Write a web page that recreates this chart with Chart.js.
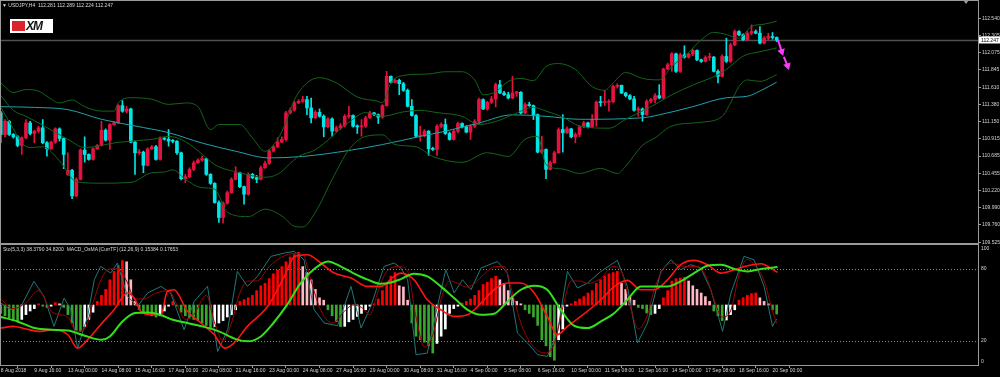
<!DOCTYPE html>
<html>
<head>
<meta charset="utf-8">
<title>USDJPY H4</title>
<script src="https://cdn.jsdelivr.net/npm/chart.js@4.4.1/dist/chart.umd.min.js"></script>
<style>
  html, body { margin: 0; padding: 0; background: #000; }
  #wrap { position: relative; width: 1000px; height: 377px; overflow: hidden; background: #000; }
  #wrap canvas { position: absolute; left: 0; }
  #priceChart { top: 0; }
  #oscChart { top: 244px; }
  .caption { position: absolute; color: #d8d8d8; font: 5px 'Liberation Sans', Arial, sans-serif; white-space: pre; line-height: 6px; }
  #logo { position: absolute; left: 10px; top: 19px; width: 43px; height: 14px; background: #fff; }
  #logo .mark { position: absolute; left: 2px; top: 2px; width: 13px; height: 10px; background: #d9252b; }
  #logo .name { position: absolute; left: 16px; top: 0; font: italic bold 12px 'Liberation Sans', Arial, sans-serif; line-height: 14px; color: #111; letter-spacing: -1px; }
</style>
</head>
<body>
<div id="wrap">
  <canvas id="priceChart" width="1000" height="246"></canvas>
  <canvas id="oscChart" width="1000" height="133"></canvas>
  <div class="caption" style="left:2px;top:2px">▼ USDJPY,H4  112.281 112.289 112.224 112.247</div>
  <div id="logo"><span class="mark"></span><span class="name">XM</span></div>
  <div class="caption" style="left:3px;top:246px">Sto(5,3,3) 38.3790 34.8200  MACD_OsMA [CurrTF] (12,26,9) 0.15384 0.17653</div>
</div>
<script>
// axis labels
const PRICE_TICKS = [109.525, 109.760, 109.990, 110.220, 110.455, 110.685, 110.915, 111.150, 111.380, 111.610, 111.845, 112.075, 112.305, 112.540];
const OSC_TICKS = [0, 20, 80, 100];
const OSC_LEVELS = [20, 80];
const TIME_INDEX = [0, 8, 16, 24, 32, 40, 48, 56, 64, 72, 80, 88, 96, 104, 112, 120, 128, 136, 144, 152, 160, 168, 176, 184];
const TIME_LABELS = ['8 Aug 2018', '9 Aug 16:00', '13 Aug 00:00', '14 Aug 08:00', '15 Aug 16:00', '17 Aug 00:00', '20 Aug 08:00', '21 Aug 16:00',
  '23 Aug 00:00', '24 Aug 08:00', '27 Aug 16:00', '29 Aug 00:00', '30 Aug 08:00', '31 Aug 16:00', '4 Sep 00:00', '5 Sep 08:00',
  '6 Sep 16:00', '10 Sep 00:00', '11 Sep 08:00', '12 Sep 16:00', '14 Sep 00:00', '17 Sep 08:00', '18 Sep 16:00', '20 Sep 00:00'];

// H4 candles, bar 0 = 8 Aug 08:00
const OPEN = [111.266,110.975,111.154,110.975,110.944,110.828,110.931,111.132,110.989,111.020,
  111.065,110.864,110.783,110.872,111.051,110.922,110.439,110.493,110.148,110.372,
  110.765,110.707,110.640,110.783,110.828,111.033,110.899,111.109,111.132,111.364,
  111.288,111.319,110.872,110.729,110.738,110.560,110.783,110.810,110.640,110.917,
  110.912,110.886,110.884,110.729,110.381,110.408,110.506,110.595,110.631,110.649,
  110.439,110.318,110.059,109.858,110.050,110.193,110.372,110.461,110.273,110.171,
  110.439,110.394,110.372,110.528,110.586,110.752,110.810,110.872,110.908,111.266,
  111.302,111.400,111.422,111.445,111.333,111.199,111.275,111.221,111.078,111.185,
  111.020,111.065,111.096,111.221,111.230,111.087,111.078,111.087,111.199,111.266,
  111.243,111.208,111.364,111.758,111.677,111.704,111.659,111.570,111.355,111.230,
  110.953,110.962,111.020,110.783,110.774,111.087,111.109,110.989,110.908,111.020,
  111.123,111.078,111.007,111.087,111.154,111.445,111.319,111.409,111.454,111.646,
  111.534,111.512,111.467,111.534,111.543,111.266,111.378,111.364,111.243,110.738,
  110.774,110.506,110.595,110.729,111.042,110.998,111.051,110.944,110.975,111.078,
  111.132,111.078,111.176,111.409,111.405,111.410,111.418,111.623,111.637,111.534,
  111.498,111.454,111.302,111.319,111.243,111.422,111.445,111.498,111.467,111.856,
  111.914,112.061,111.825,112.048,112.017,112.057,112.106,111.981,111.959,112.012,
  112.017,111.825,111.758,112.026,111.959,112.182,112.361,112.316,112.249,112.339,
  112.361,112.339,112.205,112.272,112.294,112.281];
const HIGH = [111.288,111.176,111.163,110.989,110.962,110.944,111.176,111.154,111.033,111.087,
  111.176,110.881,110.886,111.065,111.065,110.931,110.729,110.506,110.394,110.783,
  110.944,110.716,110.796,110.841,111.154,111.051,111.123,111.154,111.378,111.431,
  111.355,111.330,110.886,110.774,110.752,110.796,110.828,110.828,110.944,110.935,
  111.042,110.908,110.895,110.738,110.439,110.528,110.618,110.649,110.685,110.658,
  110.448,110.327,110.081,110.068,110.215,110.394,110.542,110.470,110.282,110.461,
  110.452,110.425,110.551,110.618,110.774,110.828,110.931,110.944,111.288,111.333,
  111.422,111.445,111.489,111.489,111.467,111.297,111.319,111.239,111.203,111.199,
  111.087,111.123,111.243,111.355,111.239,111.105,111.176,111.221,111.288,111.275,
  111.252,111.378,111.825,111.766,111.722,111.722,111.677,111.588,111.445,111.243,
  111.087,111.042,111.029,110.805,111.109,111.132,111.185,111.007,111.042,111.141,
  111.132,111.096,111.105,111.176,111.467,111.454,111.422,111.489,111.668,111.704,
  111.556,111.543,111.758,111.556,111.552,111.400,111.409,111.373,111.252,110.953,
  110.783,110.618,110.752,111.065,111.243,111.078,111.060,110.998,111.096,111.154,
  111.141,111.243,111.427,111.489,111.570,111.445,111.641,111.659,111.641,111.543,
  111.512,111.489,111.346,111.333,111.445,111.462,111.525,111.646,111.869,111.936,
  112.079,112.070,112.070,112.169,112.070,112.124,112.115,111.990,112.035,112.070,
  112.026,111.847,112.048,112.272,112.205,112.383,112.374,112.330,112.361,112.450,
  112.383,112.428,112.294,112.339,112.348,112.289];
const LOW = [110.864,110.944,110.962,110.926,110.810,110.707,110.917,110.971,110.864,110.998,
  110.850,110.685,110.774,110.855,110.886,110.515,110.425,110.113,110.139,110.363,
  110.604,110.631,110.630,110.774,110.819,110.886,110.774,111.096,111.123,111.275,
  111.266,110.864,110.439,110.707,110.461,110.551,110.774,110.631,110.631,110.899,
  110.819,110.864,110.707,110.363,110.327,110.390,110.488,110.586,110.613,110.425,
  110.305,110.050,109.791,109.782,110.037,110.184,110.363,110.260,110.037,110.157,
  110.381,110.327,110.363,110.519,110.573,110.738,110.796,110.864,110.886,111.252,
  111.288,111.391,111.409,111.243,111.132,111.190,111.208,110.944,111.065,110.953,
  111.007,111.042,111.078,111.194,111.074,110.989,110.953,111.069,111.190,111.230,
  111.123,111.194,111.355,111.668,111.668,111.512,111.556,111.346,111.221,110.940,
  110.886,110.944,110.694,110.761,110.694,111.065,110.975,110.899,110.899,110.998,
  111.065,110.998,110.908,111.069,111.123,111.311,111.302,111.391,111.346,111.525,
  111.498,111.454,111.458,111.489,111.252,111.257,111.355,111.176,110.729,110.720,
  110.381,110.497,110.586,110.720,110.738,110.989,110.931,110.864,110.944,111.065,
  111.065,111.069,111.087,111.355,111.364,111.288,111.400,111.601,111.525,111.480,
  111.445,111.288,111.221,111.154,111.230,111.400,111.400,111.454,111.445,111.847,
  111.825,111.811,111.811,112.003,112.003,112.035,111.968,111.945,111.950,111.972,
  111.816,111.668,111.749,111.945,111.945,112.169,112.303,112.240,112.240,112.316,
  112.330,112.196,112.196,112.249,112.258,112.224];
const CLOSE = [110.975,111.154,110.975,110.944,110.828,110.931,111.132,110.989,111.020,111.065,
  110.864,110.783,110.872,111.051,110.922,110.707,110.493,110.148,110.372,110.765,
  110.707,110.640,110.783,110.828,111.033,110.899,111.109,111.132,111.364,111.288,
  111.319,110.872,110.729,110.738,110.560,110.783,110.810,110.640,110.917,110.912,
  110.886,110.884,110.729,110.381,110.408,110.506,110.595,110.631,110.649,110.439,
  110.318,110.059,109.858,110.050,110.193,110.372,110.461,110.273,110.171,110.439,
  110.394,110.372,110.528,110.586,110.752,110.810,110.872,110.908,111.266,111.302,
  111.400,111.422,111.445,111.333,111.199,111.275,111.221,111.078,111.185,111.020,
  111.065,111.096,111.221,111.230,111.087,111.078,111.087,111.199,111.266,111.243,
  111.208,111.364,111.758,111.677,111.704,111.659,111.570,111.355,111.230,110.953,
  110.962,111.020,110.783,110.774,111.087,111.109,110.989,110.908,111.020,111.123,
  111.078,111.007,111.087,111.154,111.445,111.319,111.409,111.454,111.646,111.534,
  111.512,111.467,111.534,111.543,111.266,111.378,111.364,111.243,110.738,110.774,
  110.506,110.595,110.729,111.042,110.998,111.051,110.944,110.975,111.078,111.132,
  111.078,111.176,111.409,111.405,111.410,111.418,111.623,111.637,111.534,111.498,
  111.454,111.302,111.319,111.243,111.422,111.445,111.498,111.467,111.856,111.914,
  112.061,111.825,112.048,112.017,112.057,112.106,111.981,111.959,112.012,112.017,
  111.825,111.758,112.026,111.959,112.182,112.361,112.316,112.249,112.339,112.361,
  112.339,112.205,112.272,112.294,112.281,112.247];

// overlays on the price panel: [bar, price]
const BB_UPPER = [[0,111.67],[3,111.54],[6,111.58],[9,111.56],[11,111.49],[14,111.40],[17,111.44],[20,111.35],[24,111.29],[27,111.29],
  [28,111.40],[31,111.47],[36,111.45],[40,111.38],[44,111.40],[47,111.35],[50,111.04],[52,111.11],[57,111.11],[60,110.93],
  [63,110.75],[66,110.91],[68,111.14],[70,111.44],[73,111.67],[76,111.74],[80,111.67],[85,111.48],[90,111.42],[91,111.40],
  [93,111.67],[96,111.77],[102,111.79],[106,111.82],[110,111.82],[113,111.71],[115,111.51],[118,111.55],[121,111.69],[124,111.73],
  [127,111.70],[130,111.89],[133,111.93],[137,111.85],[141,111.62],[144,111.57],[146,111.67],[149,111.81],[153,111.73],[157,111.71],
  [160,111.89],[164,112.08],[167,112.25],[170,112.35],[173,112.32],[176,112.27],[179,112.43],[182,112.46],[185,112.50]];
const BB_MIDDLE = [[0,111.50],[3,111.30],[6,111.22],[10,111.10],[16,110.91],[20,110.80],[28,110.87],[36,110.91],[40,110.95],[44,110.88],[48,110.71],
  [51,110.57],[57,110.46],[63,110.40],[66,110.44],[71,110.68],[75,110.77],[83,111.14],[87,111.27],[91,111.22],[96,111.28],
  [100,111.30],[104,111.27],[110,111.22],[114,111.11],[118,111.15],[122,111.24],[127,111.34],[130,111.29],[134,111.21],[138,111.09],
  [145,111.06],[149,111.18],[156,111.38],[160,111.51],[165,111.64],[171,111.78],[173,111.85],[177,112.03],[181,112.09],[185,112.14]];
const BB_LOWER = [[0,111.34],[3,111.05],[5,110.86],[7,110.80],[10,110.81],[14,110.62],[18,110.34],[24,110.32],[31,110.33],[36,110.46],[39,110.47],[41,110.50],
  [44,110.37],[48,110.26],[51,110.24],[54,109.93],[59,109.87],[63,109.97],[67,109.88],[70,109.74],[72,109.73],[75,109.93],
  [79,110.37],[83,110.77],[87,110.95],[91,110.97],[94,110.84],[99,110.81],[103,110.68],[110,110.60],[116,110.73],[121,110.68],
  [125,110.91],[128,110.95],[130,110.57],[134,110.51],[138,110.45],[143,110.52],[147,110.45],[149,110.55],[153,110.83],[156,110.93],
  [160,111.09],[167,111.14],[172,111.22],[174,111.40],[176,111.62],[178,111.71],[181,111.69],[185,111.78]];
const MA_SLOW = [[0,111.35],[8,111.34],[16,111.31],[24,111.18],[32,111.09],[40,111.00],[48,110.86],[56,110.75],[64,110.66],[72,110.68],
  [83,110.76],[91,110.84],[100,110.95],[106,111.02],[114,111.13],[122,111.24],[130,111.22],[138,111.18],[153,111.20],[157,111.24],
  [165,111.35],[173,111.47],[178,111.49],[181,111.56],[185,111.68]];
const ARROW_1 = [[185.3,112.25],[186.2,112.09]];
const ARROW_2 = [[186.7,112.02],[187.6,111.90]];

// lower panel: histogram height around the 50 line, and lines as [bar, value]
const HIST = [-7,-9,-11,-13,-14,-12,-8,-5,-3,1, -1,-2,-1,2,1,-2,-8,-15,-21,-22,
  -18,-12,-6,3,8,13,21,28,33,37, 36,21,3,-4,-7,-8,-9,-10,-9,-5,
  -1,3,-1,-6,-9,-11,-12,-13,-15,-17, -19,-18,-15,-13,-10,-8,-4,3,4.5,6,
  8,12,16,18,22,26,29,32,36,40, 42,44,32,27,21,13,6,4,-4,-9,
  -14,-18,-17.8,-14,-12,-9.5,-7,-4,-1,1, 5,12,18,24,27,16,15,4,-15,-26,
  -29,-31,-34,-40,-32,-26,-20,-7,-3,-1, 1.6,3,5,8,12,17,19,22,24,21,
  18,12,7,3,1,-4,-7,-10,-17,-29, -34,-43,-46,-29,-20,-1,1,3,5,7,
  10,12,18,21,24,26,27,28,18,13, 7,4,-2,-3,-6.7,-8,-7,-3,6,12,
  20,22,22.5,23,20,16,13,10,7,3, -5,-9,-13,-12.5,-8,-4,4,6,8,9.5,
  10,6,3,1,-4,-7.5];
const STOCH_MAIN = [[0,51.6],[2.4,46],[4.8,48.8],[7.9,69.7],[10.3,57.2],[12.7,32.2],[15.1,55.8],[16.7,46],[18.3,14.1],[20.7,40.5],
  [22.3,71.1],[23.8,82.2],[26.2,76.6],[27.8,85],[30.2,57.2],[32.6,48.8],[35,60],[38.2,65.5],[40.5,60],[43.7,29.4],
  [46.1,53],[49.3,65.5],[51.7,11.3],[54.1,29.4],[56.4,78],[58.8,65.5],[61.2,73.8],[64.4,90.5],[67.6,93.3],[70,94.7],
  [72.3,87.7],[74.7,46],[77.1,35],[80.3,32.7],[83.5,65.5],[85.9,30.8],[88.2,48.8],[91.4,82.2],[93.8,85],[95.4,80.8],
  [97,71.1],[99,8.6],[101.7,9.9],[104.1,48.8],[106.1,79.4],[108.1,60],[110.1,71.1],[112.1,62.7],[114.5,80.8],[118.4,86.3],
  [120.8,76.6],[123.2,26.6],[125.6,18.3],[128,8.6],[130.3,7.2],[132.7,26.6],[135.1,78],[137.5,64.1],[139.9,68.3],[143.1,78],
  [147,87.2],[149.4,65.5],[151.8,18.3],[154.2,35],[157.4,78],[159.8,87.7],[162.1,79.4],[164.5,83.6],[166.9,80.8],[169.3,62.7],
  [172.1,28],[174.1,60],[177.2,90.5],[179.6,87.7],[182,65.5],[184,32.2],[185,38.4]];
const STOCH_SIGNAL = [[0,55],[3,47],[6,52],[9,62],[12,45],[14,42],[16,40],[18,28],[20,30],[22,52],
  [24,72],[26,80],[28,80],[30,70],[32,55],[34,55],[37,60],[40,62],[42,50],[44,38],
  [46,42],[49,58],[51,35],[53,20],[55,35],[57,60],[59,70],[61,70],[64,82],[67,90],
  [70,93],[72,92],[74,70],[76,48],[79,35],[82,45],[84,50],[86,48],[88,42],[90,62],
  [92,78],[95,82],[97,78],[99,40],[101,15],[103,25],[105,55],[107,70],[109,68],[111,65],
  [113,68],[115,75],[118,82],[120,82],[122,60],[124,35],[126,20],[128,12],[130,10],[132,18],
  [134,48],[136,70],[138,70],[140,68],[143,72],[146,82],[148,78],[150,50],[152,30],[154,40],
  [156,65],[158,80],[160,85],[163,82],[166,82],[168,75],[170,55],[172,40],[174,45],[176,75],
  [178,88],[180,82],[182,70],[184,45],[185,34.8]];
const MACD_RED = [[0,30.8],[3,32.2],[6,30],[9.5,28],[12.7,29.4],[16,25.2],[18.3,14.1],[20.7,21],[23.8,33.6],[27,46],
  [30.2,60],[31.8,55.8],[33.4,44.7],[35.8,41.9],[38.2,41.9],[39.7,61.3],[41.3,62.7],[44.5,44.7],[47.7,35],[50.9,25.2],
  [53.3,14.1],[55.6,18.3],[58.8,32.2],[63.6,48.8],[67.6,73.8],[70,90.5],[73.1,91.9],[76.3,85],[79.5,76.6],[83.5,72.5],
  [87.4,65.5],[90.6,65.5],[93.8,73.8],[95.4,76.6],[98.5,71.1],[101.7,54.4],[104.9,46],[108.1,40.5],[111.3,41.9],[114.5,51.6],
  [117.6,62.7],[120.8,68.3],[124,68.3],[127.2,60],[130.3,40.5],[132.7,25.2],[135.1,32.2],[138.3,40.5],[143.1,54.4],[146.3,65.5],
  [149.4,70.5],[152.6,62.7],[155.8,62.7],[159,71.1],[162.1,83.6],[165.3,87.2],[168.5,83.6],[171.7,76.6],[174.9,79.4],[178.1,82.7],
  [181.2,84.4],[185.2,77.2]];
const MACD_GREEN = [[0,40],[4,36.3],[8,30.8],[12,29.4],[16,28.8],[20,24.4],[24,21],[26,23.8],[29,36.3],[32,43.3],
  [35,43.8],[38,41.9],[41,37.7],[44.5,35],[48,32.2],[52,28],[56,21.6],[59,19.7],[62,23.8],[65,35],
  [68,48.8],[71.5,68.3],[75,80.8],[78,86.3],[81,82.2],[84,76.6],[87.5,71.1],[90.6,67.7],[93,68.8],[95.4,71.6],
  [98.5,76.1],[101.7,73.8],[104.9,65.5],[108.1,55.8],[111.3,46],[114.5,41.9],[117.6,42.7],[120.8,53],[124,62.7],[127.2,66.1],
  [130.3,62.7],[133.5,46],[136.7,32.7],[139.9,30.8],[143.1,36.3],[146.3,43.3],[149.4,54.4],[152.6,65.5],[155.8,65.5],[159,65.5],
  [162.1,69.7],[165.3,76.6],[168.5,82.7],[171.7,83.6],[174.9,80],[178.1,78],[181.2,80],[185.2,81.6]];

const BULL = '#e3123f', BEAR = '#00e6e6', BAND = '#14641a', ARROW = '#ff38ff';
const HIST_UP = '#ff0000', HIST_FADE = '#ffb8c4', HIST_DOWN = '#3aa82c', HIST_RISE = '#ffffff';
const FRAME = '#9a9a9a', TEXT = '#d4d4d4';
const X_MIN = -0.19, X_MAX = 233;

Chart.defaults.font.family = "'Liberation Sans', Arial, sans-serif";
Chart.defaults.font.size = 5;
Chart.defaults.color = TEXT;

const pts = arr => arr.map(([x, y]) => ({ x, y }));
const line = (data, color, width, extra) => Object.assign({
  type: 'line', data: pts(data), borderColor: color, borderWidth: width,
  pointRadius: 0, fill: false, cubicInterpolationMode: 'monotone', order: 1
}, extra || {});

const candleColors = CLOSE.map((c, i) => c >= OPEN[i] ? BULL : BEAR);
const histColors = HIST.map((h, i) => {
  const prev = i > 0 ? HIST[i - 1] : h;
  if (h >= 0) return h >= prev ? HIST_UP : HIST_FADE;
  return h <= prev ? HIST_DOWN : HIST_RISE;
});

const arrow = data => line(data, ARROW, 2, {
  cubicInterpolationMode: 'default', tension: 0, order: 0,
  pointRadius: [0, 2.5], pointStyle: 'triangle', pointRotation: 162,
  pointBackgroundColor: ARROW, pointBorderColor: ARROW
});

// frame, bid line and bid label for the price panel
const priceFrame = {
  id: 'priceFrame',
  beforeDatasetsDraw(chart) {
    const { ctx, chartArea: a, scales: { y } } = chart;
    const py = Math.round(y.getPixelForValue(CLOSE[CLOSE.length - 1])) + 0.5;
    ctx.save();
    ctx.strokeStyle = '#505050';
    ctx.lineWidth = 1.5;
    ctx.beginPath(); ctx.moveTo(a.left, py); ctx.lineTo(a.right, py); ctx.stroke();
    ctx.restore();
  },
  afterDraw(chart) {
    const { ctx, chartArea: a, scales: { y } } = chart;
    const last = CLOSE[CLOSE.length - 1];
    const py = Math.round(y.getPixelForValue(last));
    ctx.save();
    ctx.strokeStyle = FRAME;
    ctx.lineWidth = 1;
    ctx.strokeRect(a.left + 0.5, a.top - 0.5, a.right - a.left, a.bottom - a.top + 1);
    // bid label
    ctx.fillStyle = '#ffffff';
    ctx.fillRect(a.right + 1, py - 3.5, 22, 7);
    ctx.fillStyle = '#000000';
    ctx.font = "5px 'Liberation Sans', Arial, sans-serif";
    ctx.textBaseline = 'middle';
    ctx.fillText(last.toFixed(3), a.right + 3, py + 0.5);
    // chart shift marker
    ctx.fillStyle = FRAME;
    ctx.beginPath(); ctx.moveTo(963, 0); ctx.lineTo(969, 0); ctx.lineTo(966, 4); ctx.closePath(); ctx.fill();
    ctx.restore();
  }
};

const oscFrame = {
  id: 'oscFrame',
  beforeDatasetsDraw(chart) {
    const { ctx, chartArea: a, scales: { y } } = chart;
    ctx.save();
    ctx.strokeStyle = '#8a8a8a';
    ctx.lineWidth = 1;
    ctx.setLineDash([1, 2]);
    OSC_LEVELS.forEach(v => {
      const py = Math.round(y.getPixelForValue(v)) + 0.5;
      ctx.beginPath(); ctx.moveTo(a.left, py); ctx.lineTo(a.right, py); ctx.stroke();
    });
    ctx.restore();
  },
  afterDraw(chart) {
    const { ctx, chartArea: a, scales: { y } } = chart;
    ctx.save();
    ctx.strokeStyle = FRAME;
    ctx.lineWidth = 1;
    ctx.strokeRect(a.left + 0.5, a.top - 0.5, a.right - a.left, a.bottom - a.top + 1);
    ctx.fillStyle = TEXT;
    ctx.font = "5px 'Liberation Sans', Arial, sans-serif";
    ctx.textBaseline = 'middle';
    OSC_TICKS.forEach(v => {
      const py = Math.min(Math.max(y.getPixelForValue(v), a.top + 3.5), a.bottom - 3);
      ctx.fillText(String(v), a.right + 3, py);
    });
    ctx.restore();
  }
};

new Chart(document.getElementById('priceChart'), {
  type: 'line',
  data: {
    datasets: [
      { type: 'bar', data: HIGH.map((h, i) => ({ x: i, y: [LOW[i], h] })), backgroundColor: candleColors,
        barThickness: 1, grouped: false, order: 3 },
      { type: 'bar', data: OPEN.map((o, i) => ({ x: i, y: [o, CLOSE[i]] })), backgroundColor: candleColors,
        barThickness: 3, minBarLength: 1, grouped: false, order: 2 },
      line(BB_UPPER, BAND, 1),
      line(BB_MIDDLE, BAND, 1),
      line(BB_LOWER, BAND, 1),
      line(MA_SLOW, '#1fa2aa', 1),
      arrow(ARROW_1),
      arrow(ARROW_2)
    ]
  },
  options: {
    responsive: false,
    animation: false,
    events: [],
    layout: { autoPadding: false, padding: { top: 1, bottom: 3, left: 0, right: 0 } },
    plugins: { legend: { display: false }, tooltip: { enabled: false } },
    scales: {
      x: { type: 'linear', min: X_MIN, max: X_MAX, offset: false, display: false },
      y: {
        position: 'right', min: 109.515, max: 112.772,
        afterBuildTicks: s => { s.ticks = PRICE_TICKS.map(v => ({ value: v })); },
        afterFit: s => { s.width = 22; s.paddingTop = 0; s.paddingBottom = 0; },
        ticks: { callback: v => v.toFixed(3), padding: 1, autoSkip: false },
        grid: { drawOnChartArea: false, tickLength: 3, color: FRAME },
        border: { display: false }
      }
    }
  },
  plugins: [priceFrame]
});

new Chart(document.getElementById('oscChart'), {
  type: 'line',
  data: {
    datasets: [
      { type: 'bar', data: HIST.map((h, i) => ({ x: i, y: [50, 50 + h] })), backgroundColor: histColors,
        barThickness: 2, grouped: false, order: 6 },
      line(STOCH_MAIN, '#217777', 1, { cubicInterpolationMode: 'default', tension: 0, order: 5 }),
      line(STOCH_SIGNAL, '#a00000', 1, { order: 4 }),
      line(MACD_RED, '#ff1414', 1.6, { order: 3 }),
      line(MACD_GREEN, '#34e01c', 2, { order: 2 })
    ]
  },
  options: {
    responsive: false,
    animation: false,
    events: [],
    layout: { autoPadding: false, padding: { top: 1, bottom: 0, left: 0, right: 0 } },
    plugins: { legend: { display: false }, tooltip: { enabled: false } },
    scales: {
      x: {
        type: 'linear', min: X_MIN, max: X_MAX, offset: false,
        afterBuildTicks: s => { s.ticks = TIME_INDEX.map(v => ({ value: v })); },
        afterFit: s => { s.height = 12; s.paddingLeft = 0; s.paddingRight = 0; },
        ticks: { callback: (v, i) => TIME_LABELS[i], align: 'start', maxRotation: 0, autoSkip: false, padding: 0 },
        grid: { drawOnChartArea: false, tickLength: 3, color: FRAME },
        border: { display: false }
      },
      y: {
        position: 'right', min: 0, max: 100,
        afterFit: s => { s.width = 22; s.paddingTop = 0; s.paddingBottom = 0; },
        ticks: { display: false },
        grid: { display: false },
        border: { display: false }
      }
    }
  },
  plugins: [oscFrame]
});
</script>
</body>
</html>
